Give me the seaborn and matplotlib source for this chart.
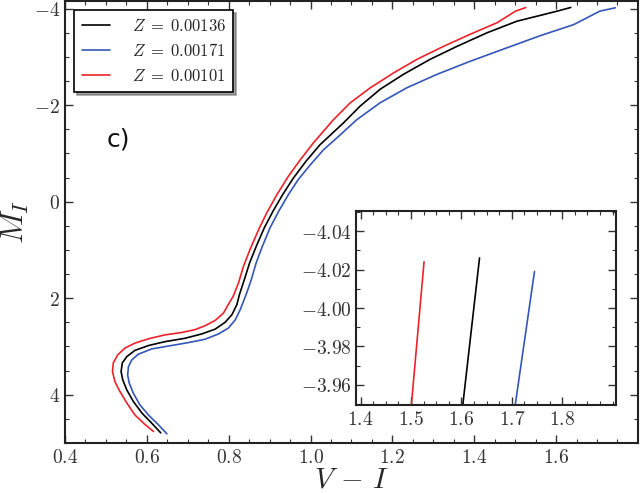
import numpy as np
import pandas as pd
import matplotlib
matplotlib.use("Agg")
import matplotlib.pyplot as plt
import seaborn as sns
from matplotlib.ticker import MultipleLocator, FixedLocator, FuncFormatter

# isochrone curves (V-I, M_I), from faint end to RGB tip
red_vi = [0.616, 0.596, 0.571, 0.551, 0.534, 0.522, 0.516, 0.518, 0.529, 0.547,
          0.571, 0.604, 0.644, 0.685, 0.718, 0.742, 0.767, 0.787, 0.799, 0.811,
          0.824, 0.836, 0.852, 0.873, 0.893, 0.918, 0.946, 0.975, 1.007, 1.056,
          1.097, 1.146, 1.203, 1.260, 1.325, 1.390, 1.456, 1.501, 1.526]
red_mi = [4.76, 4.62, 4.42, 4.17, 3.93, 3.73, 3.52, 3.34, 3.17, 3.03,
          2.93, 2.84, 2.76, 2.71, 2.65, 2.57, 2.46, 2.31, 2.13, 1.96,
          1.68, 1.34, 0.99, 0.58, 0.23, -0.15, -0.53, -0.87, -1.22, -1.70,
          -2.05, -2.36, -2.67, -2.95, -3.22, -3.47, -3.71, -3.95, -4.024]

black_vi = [0.634, 0.612, 0.588, 0.567, 0.551, 0.541, 0.537, 0.540, 0.551, 0.571,
            0.604, 0.644, 0.693, 0.734, 0.767, 0.791, 0.808, 0.820, 0.826, 0.838,
            0.851, 0.867, 0.887, 0.908, 0.932, 0.958, 0.989, 1.023, 1.080, 1.121,
            1.170, 1.227, 1.292, 1.358, 1.431, 1.504, 1.603, 1.636]
black_mi = [4.79, 4.59, 4.38, 4.14, 3.90, 3.69, 3.52, 3.34, 3.21, 3.08,
            2.98, 2.90, 2.83, 2.74, 2.64, 2.50, 2.34, 2.13, 1.93, 1.62,
            1.27, 0.93, 0.54, 0.20, -0.15, -0.49, -0.84, -1.18, -1.63, -1.98,
            -2.33, -2.64, -2.95, -3.22, -3.50, -3.74, -3.95, -4.026]

blue_vi = [0.649, 0.628, 0.604, 0.583, 0.567, 0.557, 0.553, 0.555, 0.563, 0.579,
           0.612, 0.653, 0.701, 0.742, 0.775, 0.799, 0.816, 0.828, 0.844, 0.855,
           0.867, 0.882, 0.901, 0.922, 0.946, 0.970, 1.000, 1.032, 1.064, 1.113,
           1.170, 1.235, 1.309, 1.390, 1.480, 1.561, 1.643, 1.707, 1.745]
blue_mi = [4.81, 4.62, 4.42, 4.21, 3.97, 3.76, 3.59, 3.42, 3.28, 3.16,
           3.05, 2.99, 2.92, 2.85, 2.74, 2.62, 2.45, 2.24, 1.89, 1.62,
           1.27, 0.93, 0.54, 0.20, -0.15, -0.46, -0.77, -1.08, -1.32, -1.70,
           -2.05, -2.36, -2.64, -2.91, -3.19, -3.44, -3.67, -3.95, -4.019]

labels = [r"$Z\;=\;0.00136$", r"$Z\;=\;0.00171$", r"$Z\;=\;0.00101$"]
colors = ["black", "#3456b8", "#ee2229"]

main_xticks = [0.4, 0.6, 0.8, 1.0, 1.2, 1.4, 1.6]
main_yticks = [-4, -2, 0, 2, 4]
inset_xticks = [1.4, 1.5, 1.6, 1.7, 1.8]
inset_yticks = [-4.04, -4.02, -4.00, -3.98, -3.96]

frames = []
for lab, vi, mi in zip(labels, [black_vi, blue_vi, red_vi], [black_mi, blue_mi, red_mi]):
    frames.append(pd.DataFrame({"VI": vi, "MI": mi, "Z": lab}))
df = pd.concat(frames, ignore_index=True)

sns.set_style("ticks")
plt.rcParams["mathtext.fontset"] = "cm"
plt.rcParams["font.family"] = ["DejaVu Sans"]

fig = plt.figure(figsize=(6.4, 4.93), dpi=100)
ax = fig.add_axes([0.1016, 0.1014, 0.8948, 0.8966])

sns.lineplot(data=df, x="VI", y="MI", hue="Z", palette=colors, hue_order=labels,
             sort=False, estimator=None, units="Z", lw=1.2, ax=ax)

ax.set_xlim(0.4, 1.7995)
ax.set_ylim(5.0, -4.16)
ax.xaxis.set_major_locator(FixedLocator(main_xticks))
ax.xaxis.set_minor_locator(MultipleLocator(0.05))
ax.yaxis.set_major_locator(FixedLocator(main_yticks))
ax.yaxis.set_minor_locator(MultipleLocator(0.5))
ax.xaxis.set_major_formatter(FuncFormatter(lambda v, p: f"${v:.1f}$"))
ax.yaxis.set_major_formatter(FuncFormatter(lambda v, p: f"${v:.0f}$"))


def style_ticks(a, size):
    a.tick_params(which="both", direction="in", top=True, right=True,
                  color="#333333", labelcolor="#333333", labelsize=size)
    a.tick_params(which="major", length=6, width=1)
    a.tick_params(which="minor", length=3, width=0.8)
    for s in a.spines.values():
        s.set_linewidth(1.5)
        s.set_color("#222222")


style_ticks(ax, 14)
ax.set_xlabel(r"$V\,-\,I$", fontsize=21)
ax.set_ylabel(r"$M_I$", fontsize=23)
ax.xaxis.set_label_coords(0.5, -0.05)
ax.yaxis.set_label_coords(-0.06, 0.5)

ax.text(0.0925, 0.686, "c)", transform=ax.transAxes, fontsize=18,
        ha="center", va="center", color="#111111")

leg = ax.legend(loc="upper left", bbox_to_anchor=(0.0157, 0.98), borderaxespad=0,
                fontsize=12, frameon=True, fancybox=False, shadow=True,
                handlelength=1.7, borderpad=0.45, labelspacing=0.4,
                handletextpad=1.3)
leg.get_frame().set_edgecolor("black")
leg.get_frame().set_linewidth(1.2)
leg.get_frame().set_alpha(1)

# zoomed inset on the tip of the giant branch
ins = fig.add_axes([0.557, 0.1785, 0.405, 0.3935])
sns.lineplot(data=df, x="VI", y="MI", hue="Z", palette=colors, hue_order=labels,
             sort=False, estimator=None, units="Z", lw=1.2, ax=ins, legend=False)
ins.set_xlim(1.392, 1.906)
ins.set_ylim(-3.9496, -4.0504)
ins.xaxis.set_major_locator(FixedLocator(inset_xticks))
ins.xaxis.set_minor_locator(MultipleLocator(0.025))
ins.yaxis.set_major_locator(FixedLocator(inset_yticks))
ins.yaxis.set_minor_locator(MultipleLocator(0.01))
ins.xaxis.set_major_formatter(FuncFormatter(lambda v, p: f"${v:.1f}$"))
ins.yaxis.set_major_formatter(FuncFormatter(lambda v, p: f"${v:.2f}$"))
style_ticks(ins, 14)
ins.set_xlabel("")
ins.set_ylabel("")

fig.savefig("out.png", dpi=100)
